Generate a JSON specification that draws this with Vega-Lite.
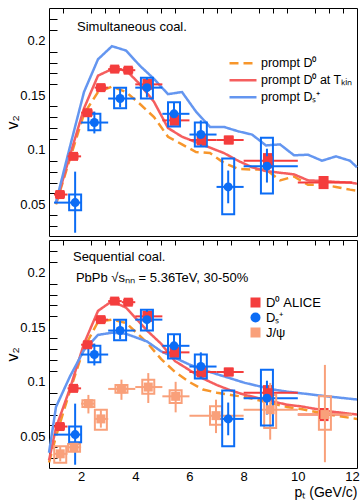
{
"$schema":"https://vega.github.io/schema/vega-lite/v6.json",
"padding":{"left":3,"top":7,"right":6,"bottom":0},
"config":{"font":"Liberation Sans","view":{"stroke":"black","strokeWidth":1},
 "axis":{"labelFont":"Liberation Sans","titleFont":"Liberation Sans","labelColor":"black","titleColor":"black","labelFontSize":13,"domain":false,"ticks":false,"titleFontWeight":"normal","labelFlush":false,"labelOverlap":false,"labelBound":false,"grid":true,"gridColor":"black","gridOpacity":1,"gridWidth":1},
 "legend":{"labelFont":"Liberation Sans","labelFontSize":12.5,"labelColor":"black"}},
"datasets":{
"pts":[
{"sp":"D⁰ ALICE","x":1.22,"v":0.059,"xlo":1,"xhi":1.5,"elo":0.057,"ehi":0.061,"slo":0.056,"shi":0.062},
{"sp":"D⁰ ALICE","x":1.72,"v":0.094,"xlo":1.5,"xhi":2,"elo":0.092,"ehi":0.096,"slo":0.091,"shi":0.097},
{"sp":"D⁰ ALICE","x":2.24,"v":0.134,"xlo":2,"xhi":2.5,"elo":0.132,"ehi":0.136,"slo":0.131,"shi":0.137},
{"sp":"D⁰ ALICE","x":2.73,"v":0.157,"xlo":2.5,"xhi":3,"elo":0.155,"ehi":0.159,"slo":0.154,"shi":0.16},
{"sp":"D⁰ ALICE","x":3.24,"v":0.174,"xlo":3,"xhi":3.5,"elo":0.172,"ehi":0.176,"slo":0.171,"shi":0.177},
{"sp":"D⁰ ALICE","x":3.74,"v":0.173,"xlo":3.5,"xhi":4,"elo":0.171,"ehi":0.175,"slo":0.17,"shi":0.176},
{"sp":"D⁰ ALICE","x":4.45,"v":0.16,"xlo":4,"xhi":5,"elo":0.157,"ehi":0.163,"slo":0.155,"shi":0.165},
{"sp":"D⁰ ALICE","x":5.45,"v":0.127,"xlo":5,"xhi":6,"elo":0.124,"ehi":0.13,"slo":0.122,"shi":0.132},
{"sp":"D⁰ ALICE","x":6.45,"v":0.109,"xlo":6,"xhi":7,"elo":0.106,"ehi":0.112,"slo":0.104,"shi":0.114},
{"sp":"D⁰ ALICE","x":7.45,"v":0.109,"xlo":7,"xhi":8,"elo":0.106,"ehi":0.112,"slo":0.105,"shi":0.113},
{"sp":"D⁰ ALICE","x":8.9,"v":0.09,"xlo":8,"xhi":10,"elo":0.084,"ehi":0.096,"slo":0.083,"shi":0.097},
{"sp":"D⁰ ALICE","x":10.95,"v":0.07,"xlo":10,"xhi":12,"elo":0.065,"ehi":0.075,"slo":0.064,"shi":0.076},
{"sp":"J/ψ","x":1.23,"v":0.034,"xlo":1,"xhi":1.5,"elo":0.027,"ehi":0.041,"slo":0.0257,"shi":0.041},
{"sp":"J/ψ","x":1.74,"v":0.04,"xlo":1.5,"xhi":2,"elo":0.036,"ehi":0.044,"slo":0.036,"shi":0.043},
{"sp":"J/ψ","x":2.27,"v":0.08,"xlo":2,"xhi":2.5,"elo":0.071,"ehi":0.088,"slo":0.077,"shi":0.083},
{"sp":"J/ψ","x":2.73,"v":0.066,"xlo":2.5,"xhi":3,"elo":0.058,"ehi":0.074,"slo":0.056,"shi":0.0745},
{"sp":"J/ψ","x":3.49,"v":0.0935,"xlo":3,"xhi":4,"elo":0.0835,"ehi":0.102,"slo":0.09,"shi":0.097},
{"sp":"J/ψ","x":4.48,"v":0.0952,"xlo":4,"xhi":5,"elo":0.0806,"ehi":0.108,"slo":0.089,"shi":0.1018},
{"sp":"J/ψ","x":5.49,"v":0.0867,"xlo":5,"xhi":6,"elo":0.072,"ehi":0.1,"slo":0.0805,"shi":0.0922},
{"sp":"J/ψ","x":6.98,"v":0.069,"xlo":6,"xhi":8,"elo":0.053,"ehi":0.0836,"slo":0.0607,"shi":0.0775},
{"sp":"J/ψ","x":8.98,"v":0.0744,"xlo":8,"xhi":10,"elo":0.047,"ehi":0.099,"slo":0.0576,"shi":0.088},
{"sp":"J/ψ","x":11.0,"v":0.07,"xlo":10,"xhi":12,"elo":0.0263,"ehi":0.1155,"slo":0.0561,"shi":0.0867},
{"sp":"Dₛ⁺","x":1.78,"v":0.0516,"xlo":1,"xhi":2,"elo":0.024,"ehi":0.08,"slo":0.0446,"shi":0.059},
{"sp":"Dₛ⁺","x":2.49,"v":0.125,"xlo":2,"xhi":3,"elo":0.115,"ehi":0.135,"slo":0.118,"shi":0.133},
{"sp":"Dₛ⁺","x":3.44,"v":0.147,"xlo":3,"xhi":4,"elo":0.139,"ehi":0.156,"slo":0.138,"shi":0.157},
{"sp":"Dₛ⁺","x":4.43,"v":0.157,"xlo":4,"xhi":5,"elo":0.148,"ehi":0.166,"slo":0.147,"shi":0.166},
{"sp":"Dₛ⁺","x":5.43,"v":0.133,"xlo":5,"xhi":6,"elo":0.123,"ehi":0.143,"slo":0.1214,"shi":0.1436},
{"sp":"Dₛ⁺","x":6.42,"v":0.114,"xlo":6,"xhi":7,"elo":0.103,"ehi":0.127,"slo":0.103,"shi":0.125},
{"sp":"Dₛ⁺","x":7.43,"v":0.066,"xlo":7,"xhi":8,"elo":0.051,"ehi":0.081,"slo":0.041,"shi":0.092},
{"sp":"Dₛ⁺","x":8.86,"v":0.085,"xlo":8,"xhi":10,"elo":0.07,"ehi":0.101,"slo":0.06,"shi":0.111}
],
"top":[
{"m":"prompt D⁰","x":1.25,"v":0.05},{"m":"prompt D⁰","x":1.75,"v":0.092},{"m":"prompt D⁰","x":2.25,"v":0.133},{"m":"prompt D⁰","x":2.75,"v":0.153},{"m":"prompt D⁰","x":3.25,"v":0.158},{"m":"prompt D⁰","x":3.75,"v":0.153},{"m":"prompt D⁰","x":4.25,"v":0.142},{"m":"prompt D⁰","x":4.75,"v":0.13},{"m":"prompt D⁰","x":5.25,"v":0.112},{"m":"prompt D⁰","x":5.75,"v":0.105},{"m":"prompt D⁰","x":6.25,"v":0.098},{"m":"prompt D⁰","x":6.75,"v":0.097},{"m":"prompt D⁰","x":7.25,"v":0.088},{"m":"prompt D⁰","x":7.75,"v":0.0825},{"m":"prompt D⁰","x":8.25,"v":0.082},{"m":"prompt D⁰","x":8.75,"v":0.082},{"m":"prompt D⁰","x":9.25,"v":0.072},{"m":"prompt D⁰","x":9.75,"v":0.0755},{"m":"prompt D⁰","x":10.25,"v":0.068},{"m":"prompt D⁰","x":10.75,"v":0.068},{"m":"prompt D⁰","x":11.25,"v":0.066},{"m":"prompt D⁰","x":11.75,"v":0.0635},{"m":"prompt D⁰","x":12,"v":0.0625},
{"m":"prompt D⁰ at Tₖᵢₙ","x":1.25,"v":0.051},{"m":"prompt D⁰ at Tₖᵢₙ","x":1.75,"v":0.095},{"m":"prompt D⁰ at Tₖᵢₙ","x":2.25,"v":0.138},{"m":"prompt D⁰ at Tₖᵢₙ","x":2.75,"v":0.168},{"m":"prompt D⁰ at Tₖᵢₙ","x":3.25,"v":0.174},{"m":"prompt D⁰ at Tₖᵢₙ","x":3.75,"v":0.173},{"m":"prompt D⁰ at Tₖᵢₙ","x":4.25,"v":0.16},{"m":"prompt D⁰ at Tₖᵢₙ","x":4.75,"v":0.144},{"m":"prompt D⁰ at Tₖᵢₙ","x":5.25,"v":0.12},{"m":"prompt D⁰ at Tₖᵢₙ","x":5.75,"v":0.112},{"m":"prompt D⁰ at Tₖᵢₙ","x":6.25,"v":0.107},{"m":"prompt D⁰ at Tₖᵢₙ","x":6.75,"v":0.102},{"m":"prompt D⁰ at Tₖᵢₙ","x":7.25,"v":0.097},{"m":"prompt D⁰ at Tₖᵢₙ","x":7.75,"v":0.09},{"m":"prompt D⁰ at Tₖᵢₙ","x":8.25,"v":0.084},{"m":"prompt D⁰ at Tₖᵢₙ","x":8.75,"v":0.0805},{"m":"prompt D⁰ at Tₖᵢₙ","x":9.25,"v":0.079},{"m":"prompt D⁰ at Tₖᵢₙ","x":9.75,"v":0.0775},{"m":"prompt D⁰ at Tₖᵢₙ","x":10.25,"v":0.072},{"m":"prompt D⁰ at Tₖᵢₙ","x":10.75,"v":0.0715},{"m":"prompt D⁰ at Tₖᵢₙ","x":11.25,"v":0.0705},{"m":"prompt D⁰ at Tₖᵢₙ","x":11.75,"v":0.07},{"m":"prompt D⁰ at Tₖᵢₙ","x":12,"v":0.069},
{"m":"prompt Dₛ⁺","x":1.25,"v":0.052},{"m":"prompt Dₛ⁺","x":1.75,"v":0.103},{"m":"prompt Dₛ⁺","x":2.25,"v":0.153},{"m":"prompt Dₛ⁺","x":2.75,"v":0.183},{"m":"prompt Dₛ⁺","x":3.25,"v":0.195},{"m":"prompt Dₛ⁺","x":3.75,"v":0.191},{"m":"prompt Dₛ⁺","x":4.25,"v":0.177},{"m":"prompt Dₛ⁺","x":4.75,"v":0.165},{"m":"prompt Dₛ⁺","x":5.25,"v":0.151},{"m":"prompt Dₛ⁺","x":5.75,"v":0.153},{"m":"prompt Dₛ⁺","x":6.25,"v":0.135},{"m":"prompt Dₛ⁺","x":6.75,"v":0.121},{"m":"prompt Dₛ⁺","x":7.25,"v":0.121},{"m":"prompt Dₛ⁺","x":7.75,"v":0.117},{"m":"prompt Dₛ⁺","x":8.25,"v":0.114},{"m":"prompt Dₛ⁺","x":8.75,"v":0.104},{"m":"prompt Dₛ⁺","x":9.25,"v":0.105},{"m":"prompt Dₛ⁺","x":9.75,"v":0.095},{"m":"prompt Dₛ⁺","x":10.25,"v":0.0955},{"m":"prompt Dₛ⁺","x":10.75,"v":0.09},{"m":"prompt Dₛ⁺","x":11.25,"v":0.094},{"m":"prompt Dₛ⁺","x":11.75,"v":0.09},{"m":"prompt Dₛ⁺","x":12,"v":0.084}
],
"bot":[
{"m":"prompt D⁰","x":1.0,"v":0.026},{"m":"prompt D⁰","x":1.25,"v":0.05},{"m":"prompt D⁰","x":1.75,"v":0.092},{"m":"prompt D⁰","x":2.25,"v":0.131},{"m":"prompt D⁰","x":2.75,"v":0.155},{"m":"prompt D⁰","x":3.25,"v":0.157},{"m":"prompt D⁰","x":3.75,"v":0.154},{"m":"prompt D⁰","x":4.5,"v":0.136},{"m":"prompt D⁰","x":5.0,"v":0.121},{"m":"prompt D⁰","x":5.5,"v":0.109},{"m":"prompt D⁰","x":6.0,"v":0.1},{"m":"prompt D⁰","x":6.5,"v":0.093},{"m":"prompt D⁰","x":7.0,"v":0.09},{"m":"prompt D⁰","x":7.5,"v":0.088},{"m":"prompt D⁰","x":8.0,"v":0.086},{"m":"prompt D⁰","x":8.5,"v":0.083},{"m":"prompt D⁰","x":9.0,"v":0.08},{"m":"prompt D⁰","x":9.5,"v":0.077},{"m":"prompt D⁰","x":10,"v":0.075},{"m":"prompt D⁰","x":11,"v":0.07},{"m":"prompt D⁰","x":12,"v":0.066},
{"m":"prompt D⁰ at Tₖᵢₙ","x":1.0,"v":0.028},{"m":"prompt D⁰ at Tₖᵢₙ","x":1.25,"v":0.058},{"m":"prompt D⁰ at Tₖᵢₙ","x":1.75,"v":0.094},{"m":"prompt D⁰ at Tₖᵢₙ","x":2.25,"v":0.135},{"m":"prompt D⁰ at Tₖᵢₙ","x":2.75,"v":0.165},{"m":"prompt D⁰ at Tₖᵢₙ","x":3.25,"v":0.174},{"m":"prompt D⁰ at Tₖᵢₙ","x":3.75,"v":0.168},{"m":"prompt D⁰ at Tₖᵢₙ","x":4.5,"v":0.147},{"m":"prompt D⁰ at Tₖᵢₙ","x":5.0,"v":0.135},{"m":"prompt D⁰ at Tₖᵢₙ","x":5.5,"v":0.119},{"m":"prompt D⁰ at Tₖᵢₙ","x":6.0,"v":0.111},{"m":"prompt D⁰ at Tₖᵢₙ","x":6.5,"v":0.103},{"m":"prompt D⁰ at Tₖᵢₙ","x":7.0,"v":0.097},{"m":"prompt D⁰ at Tₖᵢₙ","x":7.5,"v":0.092},{"m":"prompt D⁰ at Tₖᵢₙ","x":8.0,"v":0.088},{"m":"prompt D⁰ at Tₖᵢₙ","x":8.5,"v":0.085},{"m":"prompt D⁰ at Tₖᵢₙ","x":9.0,"v":0.082},{"m":"prompt D⁰ at Tₖᵢₙ","x":9.5,"v":0.079},{"m":"prompt D⁰ at Tₖᵢₙ","x":10,"v":0.0775},{"m":"prompt D⁰ at Tₖᵢₙ","x":11,"v":0.073},{"m":"prompt D⁰ at Tₖᵢₙ","x":12,"v":0.07},
{"m":"prompt Dₛ⁺","x":1.0,"v":0.035},{"m":"prompt Dₛ⁺","x":1.25,"v":0.077},{"m":"prompt Dₛ⁺","x":1.75,"v":0.105},{"m":"prompt Dₛ⁺","x":2.25,"v":0.129},{"m":"prompt Dₛ⁺","x":2.75,"v":0.143},{"m":"prompt Dₛ⁺","x":3.25,"v":0.145},{"m":"prompt Dₛ⁺","x":3.75,"v":0.144},{"m":"prompt Dₛ⁺","x":4.5,"v":0.137},{"m":"prompt Dₛ⁺","x":5.0,"v":0.128},{"m":"prompt Dₛ⁺","x":5.5,"v":0.122},{"m":"prompt Dₛ⁺","x":6.0,"v":0.116},{"m":"prompt Dₛ⁺","x":6.5,"v":0.111},{"m":"prompt Dₛ⁺","x":7.0,"v":0.107},{"m":"prompt Dₛ⁺","x":7.5,"v":0.103},{"m":"prompt Dₛ⁺","x":8.0,"v":0.099},{"m":"prompt Dₛ⁺","x":8.5,"v":0.096},{"m":"prompt Dₛ⁺","x":9.0,"v":0.093},{"m":"prompt Dₛ⁺","x":9.5,"v":0.091},{"m":"prompt Dₛ⁺","x":10,"v":0.0895},{"m":"prompt Dₛ⁺","x":11,"v":0.0865},{"m":"prompt Dₛ⁺","x":12,"v":0.0838}
]
},
"vconcat":[
{"width":308,"height":228,
 "resolve":{"scale":{"x":"independent","y":"independent"},"axis":{"x":"independent","y":"independent"}},
 "layer":[
  {"data":{"name":"top"},"mark":{"type":"line","strokeWidth":2.5},
   "encoding":{
    "x":{"field":"x","type":"quantitative","title":null,"scale":{"domain":[1,12],"nice":false,"zero":false},
      "axis":{"orient":"bottom","values":[1.5,2.5,3,3.5,4.5,5,5.5,6.5,7,7.5,8.5,9,9.5,10.5,11,11.5],"labels":false,"gridDash":[5,1000]}},
    "y":{"field":"v","type":"quantitative","title":null,"scale":{"domain":[0.021,0.23],"nice":false,"zero":false},
      "axis":{"orient":"left","values":[0.03,0.04,0.06,0.07,0.08,0.09,0.11,0.12,0.13,0.14,0.16,0.17,0.18,0.19,0.21,0.22],"labels":false,"gridDash":[8,1000]}},
    "stroke":{"field":"m","type":"nominal","scale":{"domain":["prompt D⁰","prompt D⁰ at Tₖᵢₙ","prompt Dₛ⁺"],"range":["#f7962b","#f55e5e","#6496f0"]},
      "legend":{"orient":"none","legendX":179,"legendY":47,"title":null,"symbolType":"stroke","symbolSize":729,"symbolStrokeWidth":2.5,"clipHeight":16.5,"rowPadding":0,"labelOffset":3}},
    "strokeDash":{"field":"m","type":"nominal","scale":{"domain":["prompt D⁰","prompt D⁰ at Tₖᵢₙ","prompt Dₛ⁺"],"range":[[9,5],[1,0],[1,0]]},
      "legend":{"orient":"none","legendX":179,"legendY":47,"title":null,"symbolType":"stroke","symbolSize":729,"symbolStrokeWidth":2.5,"clipHeight":16.5,"rowPadding":0,"labelOffset":3}}
   }},
  {"layer":[
   {"data":{"name":"pts"},"transform":[{"filter":"datum.sp === 'D⁰ ALICE'"}],"mark":{"type":"bar","width":10,"color":"#f43d3d"},
    "encoding":{"x":{"field":"x","type":"quantitative","title":null,"scale":{"domain":[1,12],"nice":false,"zero":false},
       "axis":{"orient":"bottom","values":[2,4,6,8,10,12],"labels":false,"gridDash":[10,1000]}},
     "y":{"field":"slo","type":"quantitative","title":"v₂","scale":{"domain":[0.021,0.23],"nice":false,"zero":false},
       "axis":{"orient":"left","values":[0.05,0.1,0.15,0.2],"format":".2~f","gridDash":[16,1000],"labelPadding":4,"titleFontSize":16,"titleX":-29,"titleY":114}},"y2":{"field":"shi"}}},
   {"data":{"name":"pts"},"transform":[{"filter":"datum.sp !== 'J/ψ'"}],"mark":{"type":"rule","strokeWidth":2},
    "encoding":{"x":{"field":"xlo","type":"quantitative","title":null,"scale":{"domain":[1,12],"nice":false,"zero":false}},"x2":{"field":"xhi"},
     "y":{"field":"v","type":"quantitative","title":"v₂","scale":{"domain":[0.021,0.23],"nice":false,"zero":false}},
     "color":{"field":"sp","type":"nominal","scale":{"domain":["D⁰ ALICE","Dₛ⁺","J/ψ"],"range":["#f43d3d","#0b6cf5","#f9a07a"]},"legend":null}}},
   {"data":{"name":"pts"},"transform":[{"filter":"datum.sp !== 'J/ψ'"}],"mark":{"type":"rule","strokeWidth":2},
    "encoding":{"x":{"field":"x","type":"quantitative","title":null,"scale":{"domain":[1,12],"nice":false,"zero":false}},
     "y":{"field":"elo","type":"quantitative","title":"v₂","scale":{"domain":[0.021,0.23],"nice":false,"zero":false}},"y2":{"field":"ehi"},
     "color":{"field":"sp","type":"nominal","scale":{"domain":["D⁰ ALICE","Dₛ⁺","J/ψ"],"range":["#f43d3d","#0b6cf5","#f9a07a"]},"legend":null}}},
   {"data":{"name":"pts"},"transform":[{"filter":"datum.sp === 'Dₛ⁺'"}],"mark":{"type":"bar","width":12,"filled":false,"strokeWidth":2},
    "encoding":{"x":{"field":"x","type":"quantitative","title":null,"scale":{"domain":[1,12],"nice":false,"zero":false}},
     "y":{"field":"slo","type":"quantitative","title":"v₂","scale":{"domain":[0.021,0.23],"nice":false,"zero":false}},"y2":{"field":"shi"},
     "color":{"field":"sp","type":"nominal","scale":{"domain":["D⁰ ALICE","Dₛ⁺","J/ψ"],"range":["#f43d3d","#0b6cf5","#f9a07a"]},"legend":null}}},
   {"data":{"name":"pts"},"transform":[{"filter":"datum.sp !== 'J/ψ'"}],"mark":{"type":"point","filled":true,"size":81,"opacity":1},
    "encoding":{"x":{"field":"x","type":"quantitative","title":null,"scale":{"domain":[1,12],"nice":false,"zero":false}},
     "y":{"field":"v","type":"quantitative","title":"v₂","scale":{"domain":[0.021,0.23],"nice":false,"zero":false}},
     "color":{"field":"sp","type":"nominal","scale":{"domain":["D⁰ ALICE","Dₛ⁺","J/ψ"],"range":["#f43d3d","#0b6cf5","#f9a07a"]},"legend":null},
     "shape":{"field":"sp","type":"nominal","scale":{"domain":["D⁰ ALICE","Dₛ⁺","J/ψ"],"range":["square","circle","square"]},"legend":null}}},
   {"data":{"values":[{"t":"Simultaneous coal."}]},"mark":{"type":"text","align":"left","baseline":"middle","fontSize":13,"font":"Liberation Sans"},
    "encoding":{"x":{"datum":1.85,"type":"quantitative","title":null,"scale":{"domain":[1,12],"nice":false,"zero":false}},
     "y":{"datum":0.2128,"type":"quantitative","title":"v₂","scale":{"domain":[0.021,0.23],"nice":false,"zero":false}},"text":{"field":"t"}}}
  ]}
 ]},
{"width":308,"height":228,
 "resolve":{"scale":{"x":"independent","y":"independent","stroke":"independent"},"axis":{"x":"independent","y":"independent"}},
 "layer":[
  {"data":{"name":"bot"},"mark":{"type":"line","strokeWidth":2.5},
   "encoding":{
    "x":{"field":"x","type":"quantitative","title":null,"scale":{"domain":[1,12],"nice":false,"zero":false},
      "axis":{"orient":"bottom","values":[1.5,2.5,3,3.5,4.5,5,5.5,6.5,7,7.5,8.5,9,9.5,10.5,11,11.5],"labels":false,"gridDash":[5,1000]}},
    "y":{"field":"v","type":"quantitative","title":null,"scale":{"domain":[0.021,0.23],"nice":false,"zero":false},
      "axis":{"orient":"left","values":[0.03,0.04,0.06,0.07,0.08,0.09,0.11,0.12,0.13,0.14,0.16,0.17,0.18,0.19,0.21,0.22],"labels":false,"gridDash":[8,1000]}},
    "stroke":{"field":"m","type":"nominal","scale":{"domain":["prompt D⁰","prompt D⁰ at Tₖᵢₙ","prompt Dₛ⁺"],"range":["#f7962b","#f55e5e","#6496f0"]},"legend":null},
    "strokeDash":{"field":"m","type":"nominal","scale":{"domain":["prompt D⁰","prompt D⁰ at Tₖᵢₙ","prompt Dₛ⁺"],"range":[[9,5],[1,0],[1,0]]},"legend":null}
   }},
  {"layer":[
   {"data":{"name":"pts"},"transform":[{"filter":"datum.sp === 'D⁰ ALICE'"}],"mark":{"type":"bar","width":10,"color":"#f43d3d"},
    "encoding":{"x":{"field":"x","type":"quantitative","title":"pₜ (GeV/c)","scale":{"domain":[1,12],"nice":false,"zero":false},
       "axis":{"orient":"bottom","values":[2,4,6,8,10,12],"format":"d","gridDash":[10,1000],"labelPadding":2,"titleAnchor":"end","titleFontSize":14,"titlePadding":2}},
     "y":{"field":"slo","type":"quantitative","title":"v₂","scale":{"domain":[0.021,0.23],"nice":false,"zero":false},
       "axis":{"orient":"left","values":[0.05,0.1,0.15,0.2],"format":".2~f","gridDash":[16,1000],"labelPadding":4,"titleFontSize":16,"titleX":-29,"titleY":114}},"y2":{"field":"shi"}}},
   {"data":{"name":"pts"},"mark":{"type":"rule","strokeWidth":2},
    "encoding":{"x":{"field":"xlo","type":"quantitative","title":"pₜ (GeV/c)","scale":{"domain":[1,12],"nice":false,"zero":false}},"x2":{"field":"xhi"},
     "y":{"field":"v","type":"quantitative","title":"v₂","scale":{"domain":[0.021,0.23],"nice":false,"zero":false}},
     "stroke":{"field":"sp","type":"nominal","scale":{"domain":["D⁰ ALICE","Dₛ⁺","J/ψ"],"range":["#f43d3d","#0b6cf5","#f9a07a"]},"legend":null}}},
   {"data":{"name":"pts"},"mark":{"type":"rule","strokeWidth":2},
    "encoding":{"x":{"field":"x","type":"quantitative","title":"pₜ (GeV/c)","scale":{"domain":[1,12],"nice":false,"zero":false}},
     "y":{"field":"elo","type":"quantitative","title":"v₂","scale":{"domain":[0.021,0.23],"nice":false,"zero":false}},"y2":{"field":"ehi"},
     "stroke":{"field":"sp","type":"nominal","scale":{"domain":["D⁰ ALICE","Dₛ⁺","J/ψ"],"range":["#f43d3d","#0b6cf5","#f9a07a"]},"legend":null}}},
   {"data":{"name":"pts"},"transform":[{"filter":"datum.sp !== 'D⁰ ALICE'"}],"mark":{"type":"bar","width":12,"fillOpacity":0,"strokeWidth":2},
    "encoding":{"x":{"field":"x","type":"quantitative","title":"pₜ (GeV/c)","scale":{"domain":[1,12],"nice":false,"zero":false}},
     "y":{"field":"slo","type":"quantitative","title":"v₂","scale":{"domain":[0.021,0.23],"nice":false,"zero":false}},"y2":{"field":"shi"},
     "stroke":{"field":"sp","type":"nominal","scale":{"domain":["D⁰ ALICE","Dₛ⁺","J/ψ"],"range":["#f43d3d","#0b6cf5","#f9a07a"]},"legend":null}}},
   {"data":{"name":"pts"},"mark":{"type":"point","filled":true,"size":81,"opacity":1},
    "encoding":{"x":{"field":"x","type":"quantitative","title":"pₜ (GeV/c)","scale":{"domain":[1,12],"nice":false,"zero":false}},
     "y":{"field":"v","type":"quantitative","title":"v₂","scale":{"domain":[0.021,0.23],"nice":false,"zero":false}},
     "color":{"field":"sp","type":"nominal","scale":{"domain":["D⁰ ALICE","Dₛ⁺","J/ψ"],"range":["#f43d3d","#0b6cf5","#f9a07a"]},
       "legend":{"orient":"none","legendX":200,"legendY":55,"title":null,"symbolSize":100,"clipHeight":15,"rowPadding":0,"labelOffset":4,"symbolStrokeWidth":0,"labelFontSize":13}},
     "shape":{"field":"sp","type":"nominal","scale":{"domain":["D⁰ ALICE","Dₛ⁺","J/ψ"],"range":["square","circle","square"]},
       "legend":{"orient":"none","legendX":200,"legendY":55,"title":null,"symbolSize":100,"clipHeight":15,"rowPadding":0,"labelOffset":4,"symbolStrokeWidth":0,"labelFontSize":13}}}},
   {"data":{"values":[{"t":"Sequential coal.","x":1.7,"y":0.214},{"t":"PbPb √sₙₙ = 5.36TeV, 30-50%","x":1.81,"y":0.1948}]},"mark":{"type":"text","align":"left","baseline":"middle","fontSize":13,"font":"Liberation Sans"},
    "encoding":{"x":{"field":"x","type":"quantitative","title":"pₜ (GeV/c)","scale":{"domain":[1,12],"nice":false,"zero":false}},
     "y":{"field":"y","type":"quantitative","title":"v₂","scale":{"domain":[0.021,0.23],"nice":false,"zero":false}},"text":{"field":"t"}}}
  ]}
 ]}
],
"spacing":2,
"resolve":{"scale":{"x":"independent","y":"independent","color":"independent","stroke":"independent","strokeDash":"independent","shape":"independent"},"legend":{"color":"independent","stroke":"independent","strokeDash":"independent","shape":"independent"}}
}
